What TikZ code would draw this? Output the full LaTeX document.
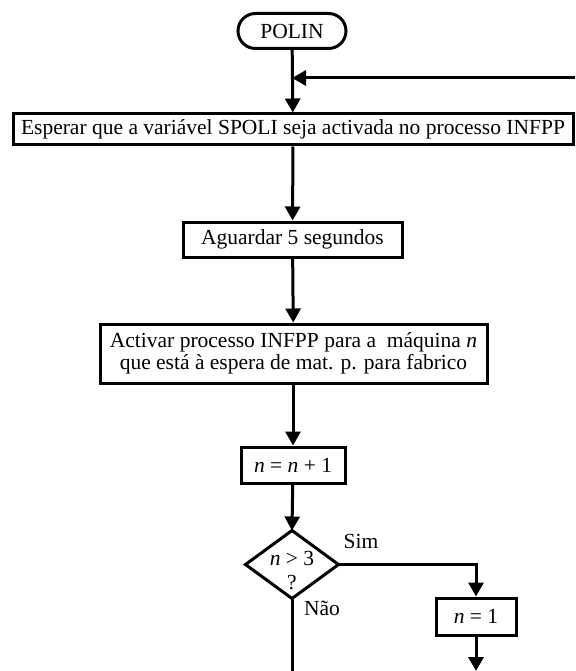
\documentclass[tikz,border=0pt]{standalone}
\usepackage{fontspec}
\setmainfont{Liberation Serif}
\usetikzlibrary{arrows.meta,shapes.misc}
\begin{document}
\begin{tikzpicture}[x=1pt,y=-1pt,
  line width=3pt,
  every node/.style={font=\fontsize{21.5}{23}\selectfont, inner sep=0pt},
  proc/.style={draw, rectangle, align=center},
  term/.style={draw, rounded rectangle},
  flow/.style={-{Triangle[width=15pt,length=14pt]}},
]
\useasboundingbox (0,0) rectangle (575,671);

% start terminal
\node[term, minimum width=108pt, minimum height=35pt] (polin) at (292,31) {POLIN};

% processing steps
\node[proc, minimum width=560pt, minimum height=31pt] (b1) at (293,129.5)
  {Esperar que a variável SPOLI seja activada no processo INFPP};
\node[proc, minimum width=219pt, minimum height=35pt] (b2) at (292.5,239.5)
  {Aguardar 5 segundos};
\node[proc, minimum width=387pt, minimum height=59pt, font=\fontsize{21.5}{22}\selectfont] (b3) at (293.5,353.5)
  {Activar processo INFPP para a~~máquina \textit{n}\\que está à espera de mat. p. para fabrico};
\node[proc, minimum width=104pt, minimum height=36pt] (b4) at (293,465)
  {\textit{n} = \textit{n} + 1};

% decision
\node[minimum width=90pt, minimum height=65pt] (d) at (292,564.5) {};
\draw (d.north) -- (d.east) -- (d.south) -- (d.west) -- cycle;
\node[align=center, font=\fontsize{21.5}{24}\selectfont] (dq) at (292,571) {\textit{n} > 3\\?};
\node (sim) at (361,541) {Sim};
\node (nao) at (322,608) {Não};

\node[proc, minimum width=80pt, minimum height=37pt] (n1) at (476,616.5)
  {\textit{n} = 1};

% free ends of connectors
\coordinate (rin) at (575,78);
\coordinate (merge) at (292,78);
\coordinate (lout) at (292,671);
\coordinate (rout) at (476,671);

% connectors
\draw[flow] (polin) -- (b1);
\draw[flow] (rin) -- (merge);
\draw[flow] (b1) -- (b2);
\draw[flow] (b2) -- (b3);
\draw[flow] (b3.south -| b4) -- (b4);
\draw[flow] (b4) -- (d.north);
\draw[flow] (d.east) -| (n1.north);
\draw (d.south) -- (lout);
\draw[flow] (n1) -- (rout);
\end{tikzpicture}
\end{document}
